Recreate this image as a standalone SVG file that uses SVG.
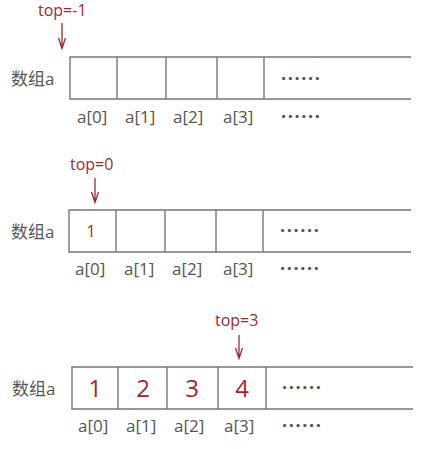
<svg xmlns="http://www.w3.org/2000/svg" width="425" height="449" viewBox="0 0 425 449">
<style>
  .box { fill: none; stroke: #777; stroke-width: 1.4; }
  .lbl { font-family: "Open Sans", "Noto Sans CJK SC", sans-serif; font-size: 17px; fill: #555; }
  .dots { font-family: "Open Sans", sans-serif; font-size: 18px; font-weight: bold; fill: #555; letter-spacing: 1.6px; }
  .ptr { font-family: "Open Sans", sans-serif; font-size: 16px; fill: #9e2a2f; }
  .val { font-family: "Open Sans", sans-serif; fill: #a0282d; text-anchor: middle; }
  .arr { fill: none; stroke: #9e2a2f; stroke-width: 1.3; }
</style>
<rect width="425" height="449" fill="#fff"/>

<g id="array1">
  <path class="box" d="M411 57 H70 V99 H411 M117 57 V99 M166 57 V99 M217 57 V99 M264 57 V99"/>
  <text class="lbl" x="11" y="85">数组a</text>
  <text class="dots" x="281" y="85">······</text>
  <text class="lbl" x="77" y="123">a[0]</text>
  <text class="lbl" x="125" y="123">a[1]</text>
  <text class="lbl" x="173" y="123">a[2]</text>
  <text class="lbl" x="223" y="123">a[3]</text>
  <text class="dots" x="281" y="123">······</text>
</g>

<g id="array2">
  <path class="box" d="M411 210 H69 V252 H411 M116 210 V252 M165 210 V252 M216 210 V252 M263 210 V252"/>
  <text class="lbl" x="11" y="238">数组a</text>
  <text class="val" x="91" y="237" font-size="16">1</text>
  <text class="dots" x="280" y="237">······</text>
  <text class="lbl" x="75" y="275">a[0]</text>
  <text class="lbl" x="124" y="275">a[1]</text>
  <text class="lbl" x="172" y="275">a[2]</text>
  <text class="lbl" x="223" y="275">a[3]</text>
  <text class="dots" x="280" y="275">······</text>
</g>

<g id="array3">
  <path class="box" d="M413 367 H72 V409 H413 M118 367 V409 M167 367 V409 M218 367 V409 M266 367 V409"/>
  <text class="lbl" x="12" y="395">数组a</text>
  <text class="val" x="95" y="397" font-size="24">1</text>
  <text class="val" x="143" y="397" font-size="24">2</text>
  <text class="val" x="192" y="397" font-size="24">3</text>
  <text class="val" x="242" y="397" font-size="24">4</text>
  <text class="dots" x="282" y="394">······</text>
  <text class="lbl" x="78" y="432">a[0]</text>
  <text class="lbl" x="126" y="432">a[1]</text>
  <text class="lbl" x="174" y="432">a[2]</text>
  <text class="lbl" x="224" y="432">a[3]</text>
  <text class="dots" x="282" y="432">······</text>
</g>

<g id="pointers">
  <text class="ptr" x="38" y="16">top=-1</text>
  <text class="ptr" x="70" y="170">top=0</text>
  <text class="ptr" x="215" y="326">top=3</text>
</g>

<g id="connectors">
  <path class="arr" d="M62 23 V48 M58.5 38 L62 48.5 L65.5 38"/>
  <path class="arr" d="M95 178 V202 M91.5 192 L95 202.5 L98.5 192"/>
  <path class="arr" d="M239 335 V358 M235.5 348 L239 358.5 L242.5 348"/>
</g>
</svg>
